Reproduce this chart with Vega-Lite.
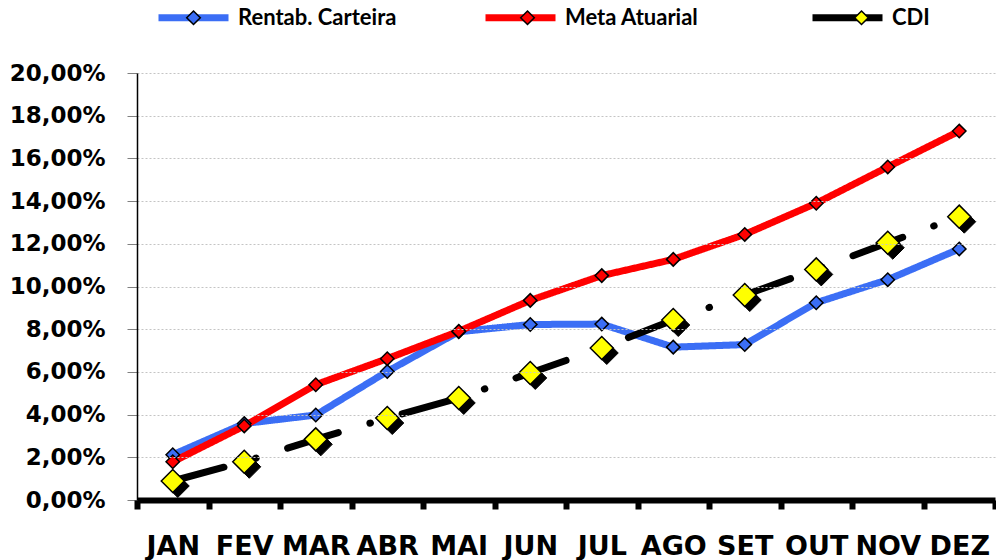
{
  "$schema": "https://vega.github.io/schema/vega-lite/v6.json",
  "width": 858,
  "height": 427,
  "autosize": {"type": "none"},
  "padding": {"left": 137, "top": 73, "right": 1, "bottom": 60},
  "background": "white",
  "config": {"view": {"stroke": null}, "font": "DejaVu Sans"},
  "data": {
    "values": [
      {"serie": "Rentab. Carteira", "mes": "JAN", "m": 1, "valor": 0.0212},
      {"serie": "Rentab. Carteira", "mes": "FEV", "m": 2, "valor": 0.0358},
      {"serie": "Rentab. Carteira", "mes": "MAR", "m": 3, "valor": 0.0398},
      {"serie": "Rentab. Carteira", "mes": "ABR", "m": 4, "valor": 0.0602},
      {"serie": "Rentab. Carteira", "mes": "MAI", "m": 5, "valor": 0.0788},
      {"serie": "Rentab. Carteira", "mes": "JUN", "m": 6, "valor": 0.0822},
      {"serie": "Rentab. Carteira", "mes": "JUL", "m": 7, "valor": 0.0824},
      {"serie": "Rentab. Carteira", "mes": "AGO", "m": 8, "valor": 0.0716},
      {"serie": "Rentab. Carteira", "mes": "SET", "m": 9, "valor": 0.0728},
      {"serie": "Rentab. Carteira", "mes": "OUT", "m": 10, "valor": 0.0924},
      {"serie": "Rentab. Carteira", "mes": "NOV", "m": 11, "valor": 0.1032},
      {"serie": "Rentab. Carteira", "mes": "DEZ", "m": 12, "valor": 0.1176},
      {"serie": "Meta Atuarial", "mes": "JAN", "m": 1, "valor": 0.0179},
      {"serie": "Meta Atuarial", "mes": "FEV", "m": 2, "valor": 0.0347},
      {"serie": "Meta Atuarial", "mes": "MAR", "m": 3, "valor": 0.0540},
      {"serie": "Meta Atuarial", "mes": "ABR", "m": 4, "valor": 0.0662},
      {"serie": "Meta Atuarial", "mes": "MAI", "m": 5, "valor": 0.0790},
      {"serie": "Meta Atuarial", "mes": "JUN", "m": 6, "valor": 0.0935},
      {"serie": "Meta Atuarial", "mes": "JUL", "m": 7, "valor": 0.1051},
      {"serie": "Meta Atuarial", "mes": "AGO", "m": 8, "valor": 0.1127},
      {"serie": "Meta Atuarial", "mes": "SET", "m": 9, "valor": 0.1244},
      {"serie": "Meta Atuarial", "mes": "OUT", "m": 10, "valor": 0.1390},
      {"serie": "Meta Atuarial", "mes": "NOV", "m": 11, "valor": 0.1560},
      {"serie": "Meta Atuarial", "mes": "DEZ", "m": 12, "valor": 0.1728},
      {"serie": "CDI", "mes": "JAN", "m": 1, "valor": 0.0089},
      {"serie": "CDI", "mes": "FEV", "m": 2, "valor": 0.0179},
      {"serie": "CDI", "mes": "MAR", "m": 3, "valor": 0.0284},
      {"serie": "CDI", "mes": "ABR", "m": 4, "valor": 0.0384},
      {"serie": "CDI", "mes": "MAI", "m": 5, "valor": 0.0478},
      {"serie": "CDI", "mes": "JUN", "m": 6, "valor": 0.0595},
      {"serie": "CDI", "mes": "JUL", "m": 7, "valor": 0.0712},
      {"serie": "CDI", "mes": "AGO", "m": 8, "valor": 0.0843},
      {"serie": "CDI", "mes": "SET", "m": 9, "valor": 0.0960},
      {"serie": "CDI", "mes": "OUT", "m": 10, "valor": 0.1080},
      {"serie": "CDI", "mes": "NOV", "m": 11, "valor": 0.1205},
      {"serie": "CDI", "mes": "DEZ", "m": 12, "valor": 0.1327}
    ]
  },
  "encoding": {
    "x": {
      "field": "mes",
      "type": "ordinal",
      "sort": null,
      "bandPosition": 0.5,
      "scale": {"type": "band", "paddingInner": 0, "paddingOuter": 0},
      "axis": {
        "title": null,
        "domainColor": "black",
        "domainWidth": 6,
        "tickColor": "black",
        "tickWidth": 6,
        "tickSize": 9,
        "tickBand": "extent",
        "labelFont": "DejaVu Sans",
        "labelFontSize": 27,
        "labelFontWeight": "bold",
        "labelColor": "black",
        "labelPadding": 24,
        "labelAngle": 0,
        "grid": false,
        "zindex": 2
      }
    },
    "y": {
      "field": "valor",
      "type": "quantitative",
      "scale": {"domain": [0, 0.2], "nice": false},
      "axis": {
        "title": null,
        "values": [0, 0.02, 0.04, 0.06, 0.08, 0.1, 0.12, 0.14, 0.16, 0.18, 0.2],
        "labelExpr": "replace(format(datum.value, '.2%'), '.', ',')",
        "domainColor": "black",
        "domainWidth": 1.5,
        "tickColor": "#808080",
        "tickSize": 10,
        "tickWidth": 1,
        "labelFont": "DejaVu Sans",
        "labelFontSize": 23,
        "labelFontWeight": "bold",
        "labelColor": "black",
        "labelPadding": 22,
        "labelFlush": false,
        "labelOverlap": false,
        "grid": true,
        "gridColor": "#c4c4c4",
        "gridDash": [2, 2],
        "gridWidth": 1,
        "zindex": 1
      }
    }
  },
  "layer": [
    {
      "mark": {"type": "line", "strokeWidth": 7, "strokeCap": "round", "strokeJoin": "round"},
      "encoding": {
        "order": {"field": "m", "type": "quantitative"},
        "stroke": {
          "field": "serie",
          "type": "nominal",
          "sort": null,
          "scale": {"range": ["#3B6EF5", "#FF0000", "#000000"]},
          "legend": {
            "title": null,
            "orient": "none",
            "legendX": 18,
            "legendY": -94,
            "direction": "horizontal",
            "gridAlign": "all",
            "columnPadding": 74,
            "padding": 0,
            "symbolType": "stroke",
            "symbolSize": 4900,
            "symbolStrokeWidth": 7,
            "labelOffset": 6,
            "labelFont": "Lato",
            "labelFontSize": 22,
            "labelFontWeight": "bold",
            "labelColor": "black",
            "zindex": 1
          }
        },
        "strokeDash": {
          "field": "serie",
          "type": "nominal",
          "scale": {"domain": ["Rentab. Carteira", "Meta Atuarial", "CDI"], "range": [[1, 0], [1, 0], [53, 33, 0.5, 33]]},
          "legend": null
        }
      }
    },
    {
      "transform": [{"filter": "datum.serie === 'CDI'"}],
      "mark": {"type": "point", "shape": "diamond", "filled": true, "fill": "black", "stroke": "black", "strokeWidth": 1, "size": 529, "xOffset": 5, "yOffset": 5, "opacity": 1},
      "encoding": {}
    },
    {
      "mark": {"type": "point", "shape": "diamond", "filled": true, "stroke": "black", "strokeWidth": 1.5, "opacity": 1},
      "encoding": {
        "size": {
          "field": "serie",
          "type": "ordinal",
          "scale": {"type": "ordinal", "domain": ["Rentab. Carteira", "Meta Atuarial", "CDI"], "range": [180, 180, 529]},
          "legend": null
        },
        "fill": {
          "field": "serie",
          "type": "nominal",
          "sort": ["Rentab. Carteira", "Meta Atuarial", "CDI"],
          "scale": {"range": ["#3B6EF5", "#FF0000", "#FFFF00"]},
          "legend": {
            "title": null,
            "orient": "none",
            "legendX": 18,
            "legendY": -94,
            "direction": "horizontal",
            "gridAlign": "all",
            "columnPadding": 251,
            "padding": 0,
            "symbolType": "M0,-0.18L0.18,0L0,0.18L-0.18,0Z",
            "symbolSize": 5700,
            "symbolStrokeColor": "black",
            "symbolStrokeWidth": 1.5,
            "symbolOpacity": 1,
            "labelOffset": 6,
            "labelExpr": "''",
            "labelFont": "Lato",
            "labelFontSize": 22,
            "labelFontWeight": "bold",
            "labelColor": "black",
            "zindex": 2
          }
        }
      }
    }
  ]
}
